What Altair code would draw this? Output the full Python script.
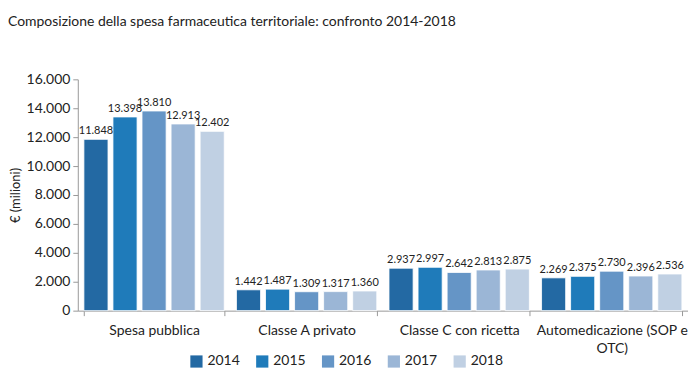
import altair as alt
import pandas as pd

categories = ["Spesa pubblica", "Classe A privato", "Classe C con ricetta", "Automedicazione (SOP e OTC)"]
years = ["2014", "2015", "2016", "2017", "2018"]
values = {
    "2014": [11848, 1442, 2937, 2269],
    "2015": [13398, 1487, 2997, 2375],
    "2016": [13810, 1309, 2642, 2730],
    "2017": [12913, 1317, 2813, 2396],
    "2018": [12402, 1360, 2875, 2536],
}
colors = ["#2369A3", "#1F7BBA", "#6595C6", "#9BB6D6", "#C0D0E3"]
y_ticks = [0, 2000, 4000, 6000, 8000, 10000, 12000, 14000, 16000]

rows = []
for y in years:
    for c, v in zip(categories, values[y]):
        rows.append({"cat": c, "year": y, "value": v, "label": f"{v:,}".replace(",", ".")})
df = pd.DataFrame(rows)

FONT = "Lato"

base = alt.Chart(df).encode(
    x=alt.X("cat:N", sort=categories, title=None,
            scale=alt.Scale(paddingInner=0.08, paddingOuter=0.04),
            axis=alt.Axis(labelAngle=0, tickBand="extent", labelFontSize=14, labelFont=FONT,
                          labelColor="#222", domainColor="#999", tickColor="#999", tickSize=5,
                          labelPadding=8, labelLineHeight=18,
                          labelExpr="datum.label == 'Automedicazione (SOP e OTC)' ? ['Automedicazione (SOP e', 'OTC)'] : datum.label")),
    xOffset=alt.XOffset("year:N", sort=years, scale=alt.Scale(paddingInner=0.17)),
    y=alt.Y("value:Q", title="€ (milioni)",
            scale=alt.Scale(domain=[0, 16000], nice=False),
            axis=alt.Axis(values=y_ticks, grid=False, labelFontSize=14, labelFont=FONT,
                          labelOverlap=False, labelPadding=3, labelBound=False,
                          labelColor="#222", domainColor="#999", tickColor="#999", tickSize=5,
                          titleFont=FONT, titleFontSize=13, titleFontWeight="normal",
                          titleColor="#222", titlePadding=4,
                          labelExpr="replace(format(datum.value, ','), ',', '.')")),
)

bars = base.mark_bar(stroke="white", strokeWidth=0.8).encode(
    color=alt.Color("year:N", sort=years, scale=alt.Scale(domain=years, range=colors),
                    legend=alt.Legend(title=None, orient="none", direction="horizontal",
                                      legendX=112, legendY=276, symbolType="square",
                                      symbolSize=150, symbolStrokeWidth=0, labelFontSize=14,
                                      labelFont=FONT, labelColor="#222", columnPadding=15,
                                      symbolOpacity=1)),
)

text = base.mark_text(dy=-3, baseline="bottom", fontSize=11, font=FONT, color="#222").encode(
    text="label:N",
)

chart = (bars + text).properties(
    width=612, height=232,
    title=alt.TitleParams("Composizione della spesa farmaceutica territoriale: confronto 2014-2018",
                          anchor="start", frame="group", dx=-70, offset=43, fontSize=14,
                          font=FONT, fontWeight="normal", color="#222"),
    autosize=alt.AutoSizeParams(type="none"),
    padding={"left": 70, "top": 71, "right": 0, "bottom": 66},
).configure_view(stroke=None)

chart.save("out.html", embed_options={"renderer": "svg", "actions": False})
